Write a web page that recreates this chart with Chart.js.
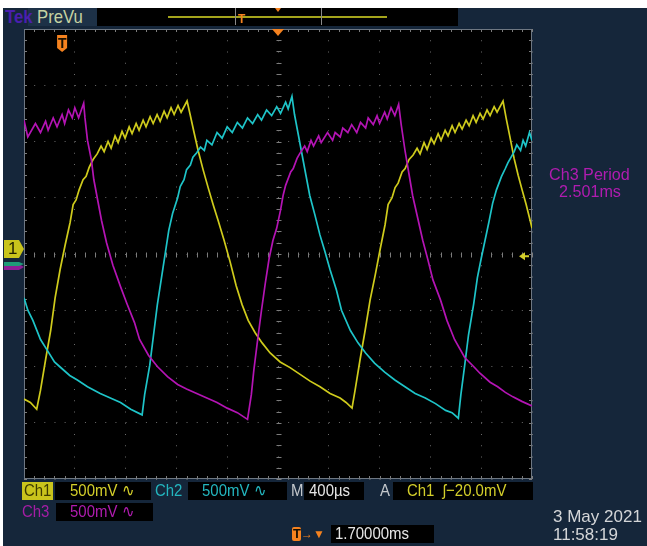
<!DOCTYPE html>
<html>
<head>
<meta charset="utf-8">
<script src="https://cdn.jsdelivr.net/npm/chart.js@4.4.1/dist/chart.umd.min.js"></script>
<style>
  html, body { margin: 0; padding: 0; background: #fff; }
  #wrap { position: relative; width: 647px; height: 546px; overflow: hidden; background: #fff; }
  #panel { position: absolute; left: 3px; top: 8px; right: 0; bottom: 0; background: #15263a; }
  #scope { position: absolute; left: 0; top: 0; }
  .lbl { position: absolute; white-space: nowrap; font-family: "Liberation Sans", Arimo, sans-serif;
         font-size: 17px; line-height: 18px; transform: scaleX(0.88); transform-origin: 0 0; }
  .blk { position: absolute; background: #000; }
</style>
</head>
<body>
<div id="wrap">
  <div id="panel"></div>

  <!-- top PreVu bar -->
  <div class="blk" style="left:28px;top:8px;width:69px;height:18px;background:#1d3147;"></div>
  <div class="lbl" style="left:5px;top:8px;font-size:19px;font-weight:bold;color:#4a1fae;">Tek</div>
  <div class="lbl" style="left:37px;top:8px;font-size:19px;color:#c6d3a2;">PreVu</div>
  <div class="blk" style="left:97px;top:8px;width:361px;height:18px;"></div>
  <div class="blk" style="left:168px;top:16px;width:219px;height:2px;background:#a4a41c;"></div>
  <div class="blk" style="left:235px;top:8px;width:85px;height:17px;background:transparent;border-left:1px solid #8a8a8a;border-right:1px solid #8a8a8a;"></div>

  <canvas id="scope" width="647" height="546"></canvas>

  <!-- markers text -->
  <div class="lbl" style="left:58px;top:34px;font-size:14px;font-weight:bold;color:#1a1000;transform:none;">T</div>
  <div class="lbl" style="left:238px;top:10px;font-size:12px;font-weight:bold;color:#f5821f;transform:none;">T</div>
  <div class="lbl" style="left:8px;top:240px;font-size:17px;color:#1e1e00;transform:none;">1</div>

  <!-- measurement -->
  <div class="lbl" style="left:549px;top:166px;color:#b01cb0;transform:scaleX(0.95);">Ch3 Period</div>
  <div class="lbl" style="left:559px;top:183px;color:#b01cb0;transform:scaleX(0.95);">2.501ms</div>

  <!-- bottom readouts row 1 -->
  <div class="blk" style="left:22px;top:482px;width:31px;height:18px;background:#c9c41c;"></div>
  <div class="lbl" style="left:24px;top:482px;color:#3c3a00;">Ch1</div>
  <div class="blk" style="left:55px;top:482px;width:96px;height:18px;"></div>
  <div class="lbl" style="left:70px;top:482px;color:#d4cf2a;">500mV ∿</div>
  <div class="lbl" style="left:155px;top:482px;color:#23b6bf;">Ch2</div>
  <div class="blk" style="left:188px;top:482px;width:99px;height:18px;"></div>
  <div class="lbl" style="left:202px;top:482px;color:#23b6bf;">500mV ∿</div>
  <div class="lbl" style="left:291px;top:482px;color:#c4c8cc;">M</div>
  <div class="blk" style="left:304px;top:482px;width:60px;height:18px;"></div>
  <div class="lbl" style="left:309px;top:482px;color:#e6e6e6;">400µs</div>
  <div class="lbl" style="left:380px;top:482px;color:#c4c8cc;">A</div>
  <div class="blk" style="left:393px;top:482px;width:140px;height:18px;"></div>
  <div class="lbl" style="left:407px;top:482px;color:#d4cf2a;">Ch1 &nbsp;ʃ−20.0mV</div>

  <!-- row 2 -->
  <div class="lbl" style="left:22px;top:503px;color:#a51ea5;">Ch3</div>
  <div class="blk" style="left:56px;top:503px;width:97px;height:18px;"></div>
  <div class="lbl" style="left:70px;top:503px;color:#b01cb0;">500mV ∿</div>

  <!-- row 3 -->
  <div class="blk" style="left:292px;top:527px;width:9px;height:14px;background:#f5821f;border-radius:2px;"></div>
  <div class="lbl" style="left:293px;top:525px;font-size:13px;font-weight:bold;color:#1a1000;transform:none;">T</div>
  <div class="lbl" style="left:301px;top:525px;font-size:12px;color:#f5821f;transform:none;">→▼</div>
  <div class="blk" style="left:331px;top:525px;width:103px;height:18px;"></div>
  <div class="lbl" style="left:335px;top:525px;color:#e6e6e6;">1.70000ms</div>

  <!-- date -->
  <div class="lbl" style="left:553px;top:508px;color:#d4d6d8;transform:none;">3 May 2021</div>
  <div class="lbl" style="left:553px;top:526px;color:#d4d6d8;transform:none;">11:58:19</div>
</div>

<script>
// time in ms relative to the trigger, voltage in V (500 mV/div)
const ch1Time = [-0.30, -0.25, -0.20, -0.17, -0.13, -0.09, -0.055, -0.016, 0.024, 0.063,
  0.087, 0.110, 0.134, 0.165, 0.189, 0.213, 0.244, 0.276, 0.307, 0.331,
  0.362, 0.386, 0.417, 0.441, 0.472, 0.496, 0.528, 0.551, 0.583, 0.606,
  0.638, 0.661, 0.693, 0.717, 0.748, 0.772, 0.803, 0.827, 0.858, 0.882,
  0.913, 0.937, 0.984, 1.008, 1.039, 1.071, 1.110, 1.150, 1.189, 1.228,
  1.276, 1.323, 1.370, 1.417, 1.465, 1.520, 1.575, 1.638, 1.717, 1.795,
  1.874, 1.953, 2.031, 2.110, 2.189, 2.236, 2.283, 2.307, 2.346, 2.386,
  2.425, 2.465, 2.504, 2.543, 2.567, 2.598, 2.622, 2.646, 2.677, 2.701,
  2.732, 2.764, 2.795, 2.819, 2.850, 2.874, 2.906, 2.929, 2.961, 2.984,
  3.016, 3.039, 3.071, 3.094, 3.126, 3.150, 3.181, 3.205, 3.236, 3.260,
  3.291, 3.315, 3.346, 3.370, 3.402, 3.425, 3.472, 3.496, 3.528, 3.559,
  3.591, 3.622, 3.654, 3.685, 3.70];
const ch1Volt = [-1.29, -1.32, -1.38, -1.21, -0.94, -0.68, -0.39, -0.14, 0.08, 0.28,
  0.44, 0.48, 0.57, 0.66, 0.69, 0.77, 0.84, 0.89, 0.96, 0.91,
  1.00, 0.94, 1.05, 0.99, 1.09, 1.03, 1.13, 1.07, 1.16, 1.10,
  1.19, 1.13, 1.22, 1.16, 1.24, 1.18, 1.27, 1.21, 1.30, 1.24,
  1.32, 1.26, 1.36, 1.24, 1.08, 0.92, 0.75, 0.59, 0.44, 0.30,
  0.12, -0.07, -0.28, -0.45, -0.59, -0.70, -0.79, -0.88, -0.96, -1.01,
  -1.07, -1.13, -1.18, -1.24, -1.28, -1.32, -1.37, -1.21, -0.94, -0.68,
  -0.41, -0.19, 0.04, 0.26, 0.44, 0.50, 0.59, 0.63, 0.73, 0.76,
  0.84, 0.88, 0.94, 0.89, 0.99, 0.93, 1.03, 0.98, 1.07, 1.01,
  1.10, 1.05, 1.14, 1.08, 1.16, 1.11, 1.19, 1.14, 1.23, 1.17,
  1.25, 1.20, 1.28, 1.23, 1.31, 1.26, 1.36, 1.21, 1.03, 0.85,
  0.70, 0.57, 0.44, 0.30, 0.23];

const ch2Time = [-0.30, -0.27, -0.23, -0.17, -0.12, -0.06, -0.02, 0.06, 0.12, 0.20,
  0.30, 0.38, 0.46, 0.54, 0.63, 0.65, 0.69, 0.72, 0.75, 0.78,
  0.81, 0.84, 0.87, 0.91, 0.93, 0.96, 0.98, 1.01, 1.03, 1.06,
  1.09, 1.12, 1.14, 1.18, 1.22, 1.26, 1.30, 1.34, 1.38, 1.42,
  1.46, 1.50, 1.54, 1.57, 1.61, 1.65, 1.69, 1.72, 1.76, 1.78,
  1.81, 1.83, 1.86, 1.89, 1.92, 1.95, 1.99, 2.03, 2.07, 2.11,
  2.16, 2.20, 2.27, 2.33, 2.39, 2.46, 2.54, 2.62, 2.70, 2.78,
  2.86, 2.94, 3.02, 3.07, 3.12, 3.14, 3.17, 3.20, 3.24, 3.27,
  3.30, 3.33, 3.36, 3.39, 3.42, 3.44, 3.46, 3.49, 3.51, 3.54,
  3.56, 3.58, 3.61, 3.63, 3.65, 3.68, 3.70];
const ch2Volt = [-0.39, -0.50, -0.59, -0.76, -0.85, -0.96, -1.00, -1.08, -1.12, -1.18,
  -1.24, -1.28, -1.32, -1.38, -1.43, -1.25, -0.99, -0.72, -0.45, -0.23,
  -0.01, 0.21, 0.36, 0.50, 0.60, 0.66, 0.75, 0.79, 0.86, 0.90,
  0.95, 0.92, 1.01, 0.97, 1.08, 1.03, 1.13, 1.08, 1.17, 1.12,
  1.21, 1.16, 1.24, 1.19, 1.28, 1.23, 1.31, 1.25, 1.35, 1.29,
  1.40, 1.24, 1.06, 0.88, 0.70, 0.52, 0.35, 0.17, 0.02, -0.14,
  -0.32, -0.50, -0.68, -0.79, -0.88, -0.97, -1.05, -1.12, -1.18, -1.24,
  -1.28, -1.33, -1.39, -1.41, -1.46, -1.25, -0.99, -0.72, -0.45, -0.21,
  -0.04, 0.12, 0.28, 0.45, 0.57, 0.63, 0.69, 0.76, 0.81, 0.87,
  0.91, 0.97, 0.92, 1.01, 0.96, 1.08, 1.01];

const ch3Time = [-0.30, -0.27, -0.21, -0.17, -0.13, -0.11, -0.07, -0.04, 0.00, 0.02,
  0.05, 0.08, 0.10, 0.13, 0.17, 0.18, 0.20, 0.23, 0.25, 0.28,
  0.31, 0.35, 0.40, 0.46, 0.51, 0.57, 0.61, 0.68, 0.75, 0.83,
  0.91, 0.98, 1.06, 1.14, 1.22, 1.30, 1.38, 1.46, 1.49, 1.51,
  1.54, 1.57, 1.60, 1.63, 1.66, 1.69, 1.72, 1.74, 1.76, 1.80,
  1.82, 1.85, 1.87, 1.91, 1.93, 1.96, 1.98, 2.02, 2.04, 2.09,
  2.13, 2.15, 2.19, 2.21, 2.25, 2.28, 2.32, 2.35, 2.39, 2.41,
  2.45, 2.48, 2.50, 2.54, 2.56, 2.59, 2.62, 2.65, 2.67, 2.70,
  2.73, 2.76, 2.80, 2.84, 2.88, 2.92, 2.98, 3.03, 3.09, 3.17,
  3.24, 3.29, 3.37, 3.43, 3.49, 3.55, 3.62, 3.70];
const ch3Volt = [1.19, 1.04, 1.16, 1.08, 1.18, 1.10, 1.21, 1.13, 1.24, 1.16,
  1.28, 1.21, 1.30, 1.21, 1.34, 1.21, 1.01, 0.84, 0.66, 0.48,
  0.30, 0.10, -0.10, -0.29, -0.44, -0.61, -0.76, -0.90, -1.00, -1.09,
  -1.16, -1.20, -1.24, -1.28, -1.32, -1.37, -1.41, -1.47, -1.25, -1.03,
  -0.76, -0.50, -0.26, -0.04, 0.12, 0.23, 0.39, 0.52, 0.61, 0.73,
  0.76, 0.85, 0.89, 0.96, 0.91, 1.01, 0.96, 1.05, 0.99, 1.08,
  1.01, 1.08, 1.04, 1.12, 1.08, 1.15, 1.08, 1.17, 1.12, 1.21,
  1.15, 1.23, 1.16, 1.26, 1.20, 1.30, 1.23, 1.33, 1.15, 0.92,
  0.72, 0.52, 0.32, 0.12, -0.05, -0.23, -0.41, -0.59, -0.76, -0.92,
  -1.00, -1.06, -1.14, -1.18, -1.23, -1.27, -1.31, -1.35];

// 10 horizontal divisions of 400 us, screen starts 0.3 ms before trigger
const xDivs = [-0.3, 0.1, 0.5, 0.9, 1.3, 1.7, 2.1, 2.5, 2.9, 3.3, 3.7];

const toPoints = (ts, vs) => ts.map((t, i) => ({ x: t, y: vs[i] }));

const scopeFrame = {
  id: "scopeFrame",
  beforeDraw(chart) {
    const { ctx, chartArea: a } = chart;
    ctx.save();
    ctx.fillStyle = "#000";
    ctx.fillRect(a.left, a.top, a.right - a.left, a.bottom - a.top);
    ctx.restore();
  },
  beforeDatasetsDraw(chart) {
    const { ctx, chartArea: a, scales: { x, y } } = chart;
    const cx = Math.round(x.getPixelForValue(1.7)) + 0.5;
    const cy = Math.round(y.getPixelForValue(0)) + 0.5;
    ctx.save();
    ctx.strokeStyle = "#7c7c7c";
    ctx.lineWidth = 1;
    ctx.beginPath();
    for (let i = 0; i <= 50; i++) {
      const px = Math.round(x.getPixelForValue(-0.3 + i * 0.08)) + 0.5;
      ctx.moveTo(px, a.top); ctx.lineTo(px, a.top + 3);
      ctx.moveTo(px, a.bottom); ctx.lineTo(px, a.bottom - 3);
      ctx.moveTo(px, cy - 2); ctx.lineTo(px, cy + 3);
    }
    for (let i = 0; i <= 40; i++) {
      const py = Math.round(y.getPixelForValue(-2 + i * 0.1)) + 0.5;
      ctx.moveTo(a.left, py); ctx.lineTo(a.left + 3, py);
      ctx.moveTo(a.right, py); ctx.lineTo(a.right - 3, py);
      ctx.moveTo(cx - 2, py); ctx.lineTo(cx + 3, py);
    }
    ctx.stroke();
    ctx.strokeStyle = "#6e7782";
    ctx.strokeRect(a.left + 0.5, a.top + 0.5, a.right - a.left - 1, a.bottom - a.top - 1);
    ctx.restore();
  },
  afterDraw(chart) {
    const { ctx, chartArea: a, scales: { x, y } } = chart;
    const tx = x.getPixelForValue(0);
    const cx = x.getPixelForValue(1.7);
    const gy = y.getPixelForValue(0);
    ctx.save();
    ctx.fillStyle = "#f5821f";
    // trigger position flag
    ctx.beginPath();
    ctx.moveTo(tx - 5, a.top + 6);
    ctx.lineTo(tx + 5, a.top + 6);
    ctx.lineTo(tx + 5, a.top + 19);
    ctx.lineTo(tx, a.top + 23);
    ctx.lineTo(tx - 5, a.top + 19);
    ctx.closePath();
    ctx.fill();
    // horizontal position marker
    ctx.beginPath();
    ctx.moveTo(cx - 6, a.top);
    ctx.lineTo(cx + 6, a.top);
    ctx.lineTo(cx, a.top + 7);
    ctx.closePath();
    ctx.fill();
    ctx.beginPath();
    ctx.moveTo(cx - 3, 8);
    ctx.lineTo(cx + 3, 8);
    ctx.lineTo(cx, 12);
    ctx.closePath();
    ctx.fill();
    // trigger level arrow
    const ty = y.getPixelForValue(-0.02);
    ctx.fillStyle = "#d4cf2a";
    ctx.beginPath();
    ctx.moveTo(a.right - 13, ty);
    ctx.lineTo(a.right - 7, ty - 4);
    ctx.lineTo(a.right - 7, ty + 4);
    ctx.closePath();
    ctx.fill();
    ctx.fillRect(a.right - 7, ty - 1, 4, 2);
    // channel ground markers
    const marker = (yy, h, col) => {
      ctx.fillStyle = col;
      ctx.beginPath();
      ctx.moveTo(4, yy - h);
      ctx.lineTo(a.left - 5, yy - h);
      ctx.lineTo(a.left, yy);
      ctx.lineTo(a.left - 5, yy + h);
      ctx.lineTo(4, yy + h);
      ctx.closePath();
      ctx.fill();
    };
    marker(gy + 13, 3, "#8e1e96");
    marker(gy + 10, 2, "#1f9c78");
    marker(gy - 5, 9, "#c9c41c");
    ctx.restore();
  }
};

new Chart(document.getElementById("scope"), {
  type: "line",
  data: {
    datasets: [
      { label: "Ch3", data: toPoints(ch3Time, ch3Volt), borderColor: "#b414b4" },
      { label: "Ch2", data: toPoints(ch2Time, ch2Volt), borderColor: "#1ec4c8" },
      { label: "Ch1", data: toPoints(ch1Time, ch1Volt), borderColor: "#cfcb1c" }
    ]
  },
  options: {
    responsive: false,
    animation: false,
    events: [],
    layout: { padding: { left: 24, top: 29, right: 115, bottom: 67 } },
    elements: {
      point: { radius: 0 },
      line: { borderWidth: 1.7, tension: 0 }
    },
    plugins: { legend: { display: false }, tooltip: { enabled: false } },
    scales: {
      x: {
        type: "linear",
        min: -0.3,
        max: 3.7,
        afterBuildTicks: (s) => { s.ticks = xDivs.map((v) => ({ value: v })); },
        ticks: { display: false },
        grid: { color: "#6a6a6a", drawTicks: false },
        border: { display: false, dash: [1, 10.25] }
      },
      y: {
        type: "linear",
        min: -2,
        max: 2,
        ticks: { display: false, stepSize: 0.5 },
        grid: { color: "#6a6a6a", drawTicks: false },
        border: { display: false, dash: [1, 9.16] }
      }
    }
  },
  plugins: [scopeFrame]
});
</script>
</body>
</html>
